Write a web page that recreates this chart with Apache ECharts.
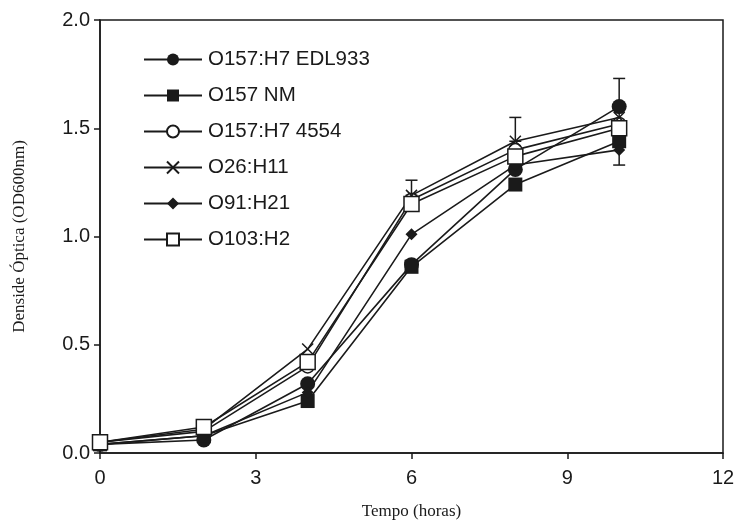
<!DOCTYPE html>
<html>
<head>
<meta charset="utf-8">
<script src="https://cdn.jsdelivr.net/npm/echarts@6/dist/echarts.min.js"></script>
<style>
  html, body { margin: 0; padding: 0; background: #fff; }
  #chart { width: 740px; height: 524px; }
</style>
</head>
<body>
<div id="chart"></div>
<script>
// tempo (horas)
const hours = [0, 2, 4, 6, 8, 10]

// densidade óptica por estirpe
const edl933 = [0.04, 0.06, 0.32, 0.87, 1.31, 1.60]
const nm = [0.04, 0.08, 0.24, 0.86, 1.24, 1.44]
const h7_4554 = [0.05, 0.10, 0.40, 1.17, 1.40, 1.52]
const o26 = [0.05, 0.11, 0.48, 1.19, 1.44, 1.55]
const o91 = [0.04, 0.08, 0.28, 1.01, 1.33, 1.40]
const o103 = [0.05, 0.12, 0.42, 1.15, 1.37, 1.50]

// barras de erro: [hora, mínimo, máximo]
const errorBars = [
  [6, 1.19, 1.26],
  [8, 1.44, 1.55],
  [10, 1.33, 1.73]
]

const crossPath = 'path://M0,0L10,10M10,0L0,10'

const pairs = (ys) => hours.map((h, i) => [h, ys[i]])

const makeSeries = (name, ys, symbol, size, fill) => ({
  name,
  type: 'line',
  data: pairs(ys),
  symbol,
  symbolSize: size,
  clip: false,
  lineStyle: { color: '#1a1a1a', width: 1.6 },
  itemStyle: { color: fill, borderColor: '#1a1a1a', borderWidth: fill === '#fff' || fill === 'none' ? 1.5 : 0 },
  emphasis: { disabled: true }
})

const chart = echarts.init(document.getElementById('chart'))

chart.setOption({
  animation: false,
  grid: {
    left: 100, right: 17, top: 20, bottom: 71,
    outerBoundsMode: 'none',
    show: true, borderColor: '#1a1a1a', borderWidth: 1.5
  },
  legend: {
    orient: 'vertical',
    left: 138,
    top: 44,
    itemWidth: 58,
    itemHeight: 15,
    itemGap: 15,
    textStyle: { fontFamily: 'Liberation Sans, Arial', fontSize: 20.5, color: '#1a1a1a', lineHeight: 21, padding: [0, 0, 0, 1] },
    data: ['O157:H7 EDL933', 'O157 NM', 'O157:H7 4554', 'O26:H11', 'O91:H21', 'O103:H2']
  },
  xAxis: {
    type: 'value',
    min: 0, max: 12, interval: 3,
    name: 'Tempo (horas)',
    nameLocation: 'middle',
    nameGap: 50,
    nameTextStyle: { fontFamily: 'Liberation Serif, Times New Roman', fontSize: 17, color: '#1a1a1a' },
    axisLine: { lineStyle: { color: '#1a1a1a', width: 1.5 } },
    axisTick: { length: 6, lineStyle: { color: '#1a1a1a', width: 1.5 } },
    axisLabel: { fontFamily: 'Liberation Sans, Arial', fontSize: 20, color: '#1a1a1a', margin: 15 },
    splitLine: { show: false }
  },
  yAxis: {
    type: 'value',
    min: 0, max: 2, interval: 0.5,
    name: 'Denside Óptica (OD600nm)',
    nameLocation: 'middle',
    nameGap: 72,
    nameTextStyle: { fontFamily: 'Liberation Serif, Times New Roman', fontSize: 17, color: '#1a1a1a' },
    axisLine: { show: true, lineStyle: { color: '#1a1a1a', width: 1.5 } },
    axisTick: { show: true, length: 6, lineStyle: { color: '#1a1a1a', width: 1.5 } },
    axisLabel: {
      fontFamily: 'Liberation Sans, Arial', fontSize: 20, color: '#1a1a1a', margin: 10,
      formatter: (v) => v.toFixed(1)
    },
    splitLine: { show: false }
  },
  series: [
    {
      type: 'custom',
      data: errorBars,
      clip: false,
      silent: true,
      z: 1,
      renderItem: (params, api) => {
        const x = api.value(0)
        const lo = api.coord([x, api.value(1)])
        const hi = api.coord([x, api.value(2)])
        const w = 6
        const st = { stroke: '#1a1a1a', lineWidth: 1.5 }
        return {
          type: 'group',
          children: [
            { type: 'line', shape: { x1: lo[0], y1: lo[1], x2: hi[0], y2: hi[1] }, style: st },
            { type: 'line', shape: { x1: hi[0] - w, y1: hi[1], x2: hi[0] + w, y2: hi[1] }, style: st },
            { type: 'line', shape: { x1: lo[0] - w, y1: lo[1], x2: lo[0] + w, y2: lo[1] }, style: st }
          ]
        }
      }
    },
    makeSeries('O157:H7 EDL933', edl933, 'circle', 15, '#1a1a1a'),
    makeSeries('O157 NM', nm, 'rect', 14, '#1a1a1a'),
    makeSeries('O157:H7 4554', h7_4554, 'circle', 13, '#fff'),
    makeSeries('O26:H11', o26, crossPath, 11, 'none'),
    makeSeries('O91:H21', o91, 'diamond', 12, '#1a1a1a'),
    makeSeries('O103:H2', o103, 'rect', 15, '#fff')
  ]
})
</script>
</body>
</html>
